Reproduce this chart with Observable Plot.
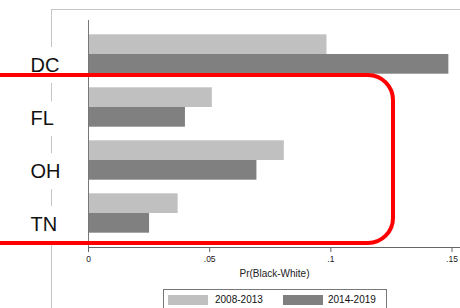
<!DOCTYPE html>
<html>
<head>
<meta charset="utf-8">
<script src="https://cdn.jsdelivr.net/npm/d3@7"></script>
<script src="https://cdn.jsdelivr.net/npm/@observablehq/plot@0.6"></script>
<style>
  html, body { margin: 0; padding: 0; background: white; }
  #wrap { position: relative; width: 460px; height: 308px; overflow: hidden; font-family: "Liberation Sans", Arial, sans-serif; }
  #frame { position: absolute; left: 51px; top: 9px; right: -5px; bottom: -5px; border-left: 1px solid #c4c4c4; border-top: 1px solid #c4c4c4; }
  #chart { position: absolute; left: 0; top: 0; }
  #legend { position: absolute; left: 163px; top: 289px; width: 224px; height: 30px; box-sizing: border-box; border: 1px solid #777; background: white; }
  .sw { position: absolute; top: 5px; width: 40px; height: 10px; }
  .lt { position: absolute; top: 4px; font-size: 10px; line-height: 12px; color: #111; }
  #redbox { position: absolute; left: -40px; top: 72.7px; width: 435px; height: 172px; box-sizing: border-box; border: 4.3px solid #ff0000; border-radius: 27px; pointer-events: none; }
</style>
</head>
<body>
<div id="wrap">
  <div id="frame"></div>
  <div id="chart"></div>
  <div id="legend"></div>
  <div id="redbox"></div>
</div>
<script>
const states = ["DC", "FL", "OH", "TN"];
const p2008 = [0.0984, 0.0511, 0.0808, 0.0370];
const p2014 = [0.1487, 0.0400, 0.0695, 0.0252];
const periods = ["2008-2013", "2014-2019"];
const colors = ["#c0c0c0", "#808080"];
const xTicks = [0, 0.05, 0.1, 0.15];
const xTitle = "Pr(Black-White)";

const data1 = states.map((s, i) => ({state: s, value: p2008[i]}));
const data2 = states.map((s, i) => ({state: s, value: p2014[i]}));

const W = 460, H = 289, mt = 20, mb = 42, ml = 88, mr = 0;
const pInner = 0.257, pOuter = 0.27;
const step = (H - mt - mb) / (states.length - pInner + 2 * pOuter);
const half = step * (1 - pInner) / 2;

const fmt = d => d === 0 ? "0" : String(d).replace(/^0/, "");

const plot = Plot.plot({
  width: W, height: H,
  marginLeft: ml, marginRight: mr, marginTop: mt, marginBottom: mb,
  style: {background: "transparent", fontFamily: "Liberation Sans, Arial, sans-serif", color: "#111"},
  x: {domain: [0, 0.1535], axis: null},
  y: {domain: states, paddingInner: pInner, paddingOuter: pOuter, round: false, axis: null},
  marks: [
    Plot.text(states, {y: d => d, text: d => d, frameAnchor: "left", textAnchor: "start", dx: -58, dy: 11,
      fontSize: 20, fill: "#111", stroke: "white", strokeWidth: 22, strokeLinejoin: "round", paintOrder: "stroke",
      style: "letter-spacing:0.6px"}),
    Plot.barX(data1, {x: "value", y: "state", fill: colors[0], insetBottom: half}),
    Plot.barX(data2, {x: "value", y: "state", fill: colors[1], insetTop: half}),
    Plot.ruleX([0], {stroke: "#777", strokeWidth: 1}),
    Plot.frame({anchor: "bottom", stroke: "#666"}),
    Plot.axisX({ticks: xTicks, tickFormat: fmt, tickSize: 5, tickPadding: 3, fontSize: 8.5, stroke: "#666", fill: "#222", label: null}),
    Plot.text([xTitle], {text: d => d, frameAnchor: "bottom", dy: 26, lineAnchor: "middle", fontSize: 10, fill: "#222"})
  ]
});
document.getElementById("chart").appendChild(plot);

const legend = document.getElementById("legend");
const swX = [4, 119], txX = [51, 164];
periods.forEach((p, i) => {
  const sw = document.createElement("div");
  sw.className = "sw"; sw.style.left = swX[i] + "px"; sw.style.background = colors[i];
  legend.appendChild(sw);
  const t = document.createElement("div");
  t.className = "lt"; t.style.left = txX[i] + "px"; t.textContent = p;
  legend.appendChild(t);
});
</script>
</body>
</html>
